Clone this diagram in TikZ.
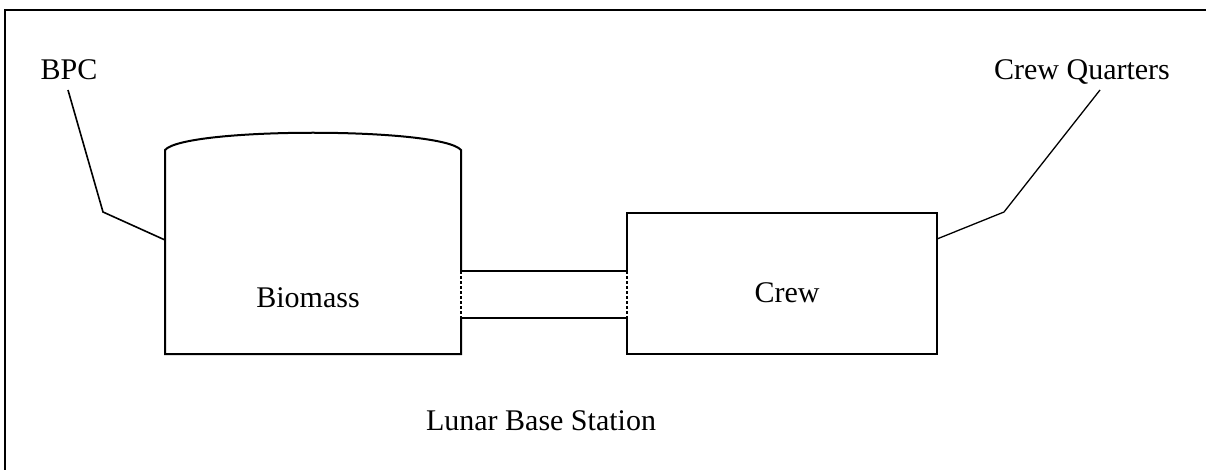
\documentclass[tikz,border=0pt]{standalone}
\usepackage{fontspec}
\setmainfont{Liberation Serif}
\usepackage{tikz}
\usetikzlibrary{calc}

\begin{document}
\begin{tikzpicture}[x=1pt,y=-1pt,
    box/.style={line width=2pt},
    lead/.style={line width=1.6pt},
    label/.style={anchor=base,inner sep=0pt,font=\fontsize{30}{34}\selectfont}]
    \useasboundingbox (0,0) rectangle (1206,470);
    \draw[line width=2.6pt] (1206,10) -- (5,10) -- (5,470);
    \coordinate (m1) at (165,354);
    \coordinate (m2) at (461,354);
    \coordinate (m3) at (461,150);
    \coordinate (m4) at (165,150);
    \coordinate (c1) at (627,354);
    \coordinate (c2) at (937,354);
    \coordinate (c3) at (937,213);
    \coordinate (c4) at (627,213);
    \coordinate (t1) at (461,271);
    \coordinate (t2) at (627,271);
    \coordinate (t3) at (627,318);
    \coordinate (t4) at (461,318);
    \draw[box] (t1) -- (m3) .. controls (441,127) and (185,127) .. (m4) -- (m1) -- (m2) -- (t4);
    \draw[box] (t2) -- (c4) -- (c3) -- (c2) -- (c1) -- (t3);
    \draw[box] (t1) -- (t2);
    \draw[box] (t4) -- (t3);
    \draw[line width=2.6pt,dash pattern=on 3pt off 2pt] (t1) -- (t4);
    \draw[line width=1.4pt,dash pattern=on 3pt off 2pt] (t2) -- (t3);
    \node[label] (bpc) at (69,80) {BPC};
    \node[label] (quarters) at (1082,80) {Crew Quarters};
    \node[label] (biomass) at (308,307) {Biomass};
    \node[label] (crew) at (787,302) {Crew};
    \node[label] (station) at (541,430) {Lunar Base Station};
    \coordinate (bpcA) at (68,90);
    \coordinate (bpcB) at (103,212);
    \coordinate (bpcC) at (165,240);
    \coordinate (cqA) at (1100,90);
    \coordinate (cqB) at (1004,212);
    \coordinate (cqC) at (937,239);
    \draw[lead] (bpcA) -- (bpcB) -- (bpcC);
    \draw[lead,line width=1.3pt] (cqA) -- (cqB) -- (cqC);
\end{tikzpicture}
\end{document}
